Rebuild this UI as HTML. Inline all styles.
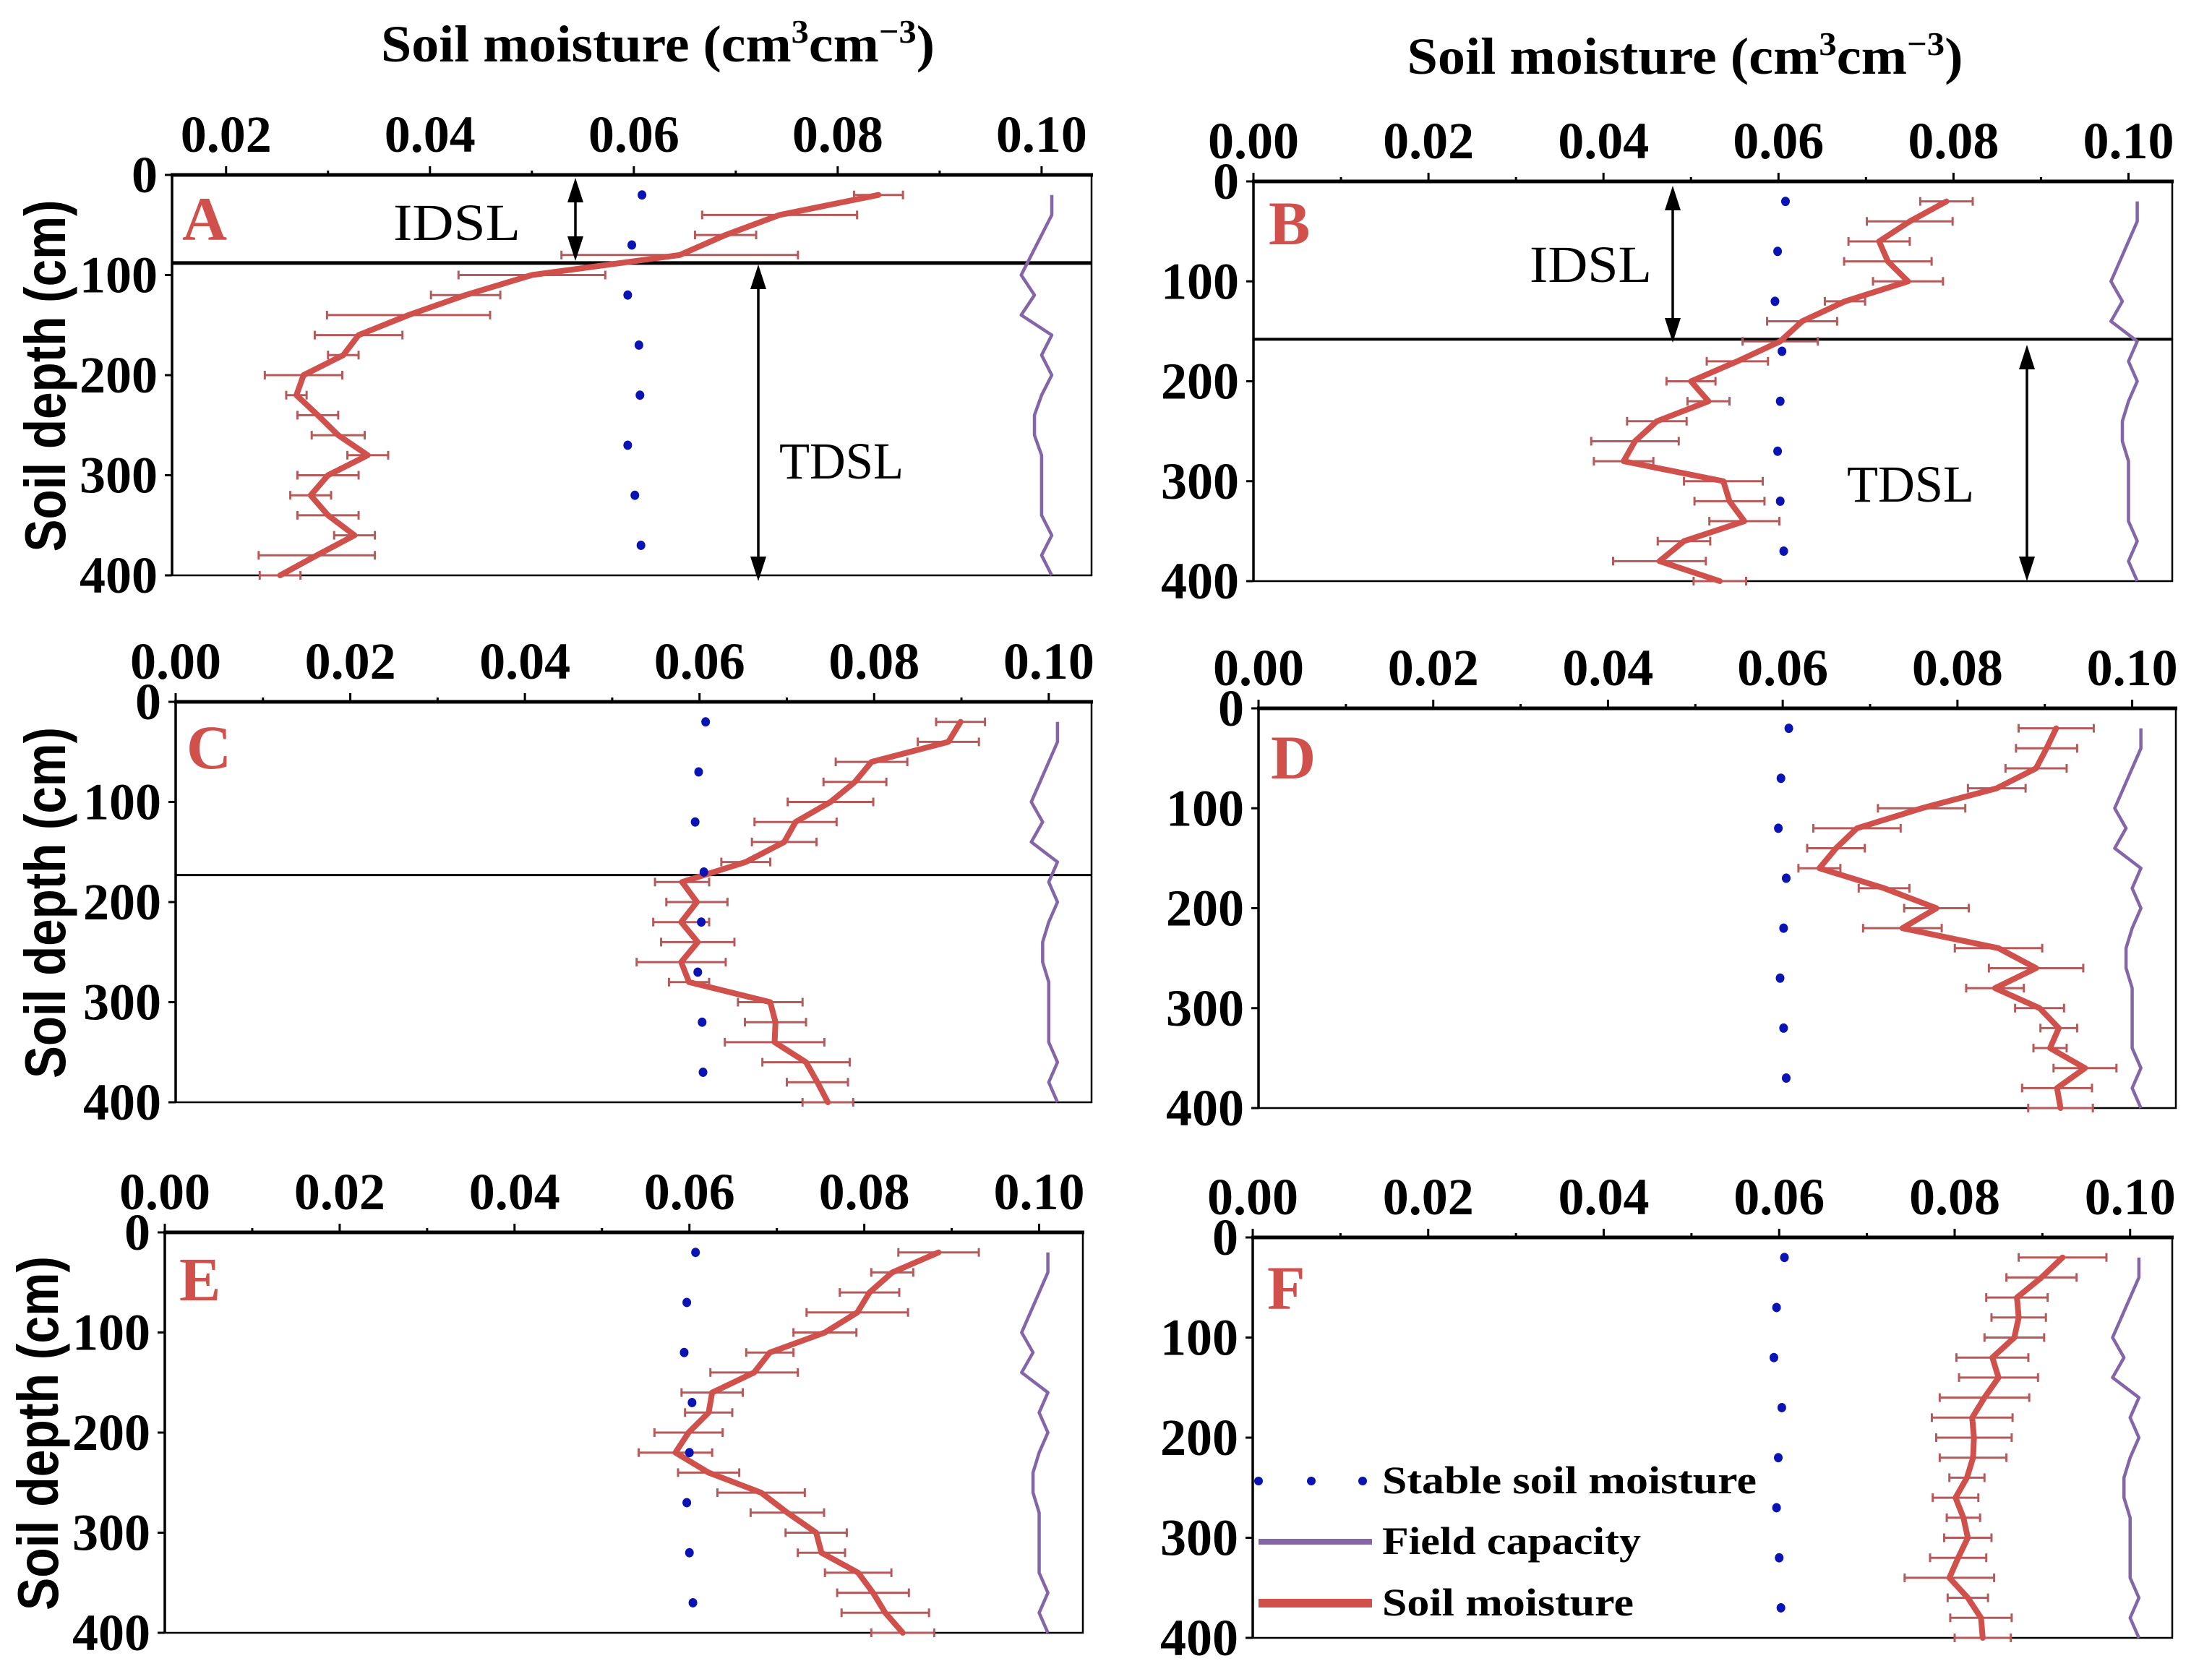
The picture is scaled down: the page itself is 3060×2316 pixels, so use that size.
<!DOCTYPE html>
<html>
<head>
<meta charset="utf-8">
<style>
  html,body{margin:0;padding:0;background:#fff;}
  svg{display:block;}
  .tick{font-family:"Liberation Serif",serif;font-weight:bold;font-size:72px;fill:#000;}
</style>
</head>
<body>
<svg id="fig" width="3060" height="2316" viewBox="0 0 3060 2316" xmlns="http://www.w3.org/2000/svg">
  <rect x="0" y="0" width="3060" height="2316" fill="#fff"/>
  <text x="910" y="85" text-anchor="middle" font-family="Liberation Serif, serif" font-weight="bold" font-size="72" textLength="766" lengthAdjust="spacingAndGlyphs">Soil moisture (cm<tspan dy="-26" font-size="46">3</tspan><tspan dy="26">cm</tspan><tspan dy="-26" font-size="46">−3</tspan><tspan dy="26">)</tspan></text>
  <text x="2331" y="102" text-anchor="middle" font-family="Liberation Serif, serif" font-weight="bold" font-size="72" textLength="769" lengthAdjust="spacingAndGlyphs">Soil moisture (cm<tspan dy="-26" font-size="46">3</tspan><tspan dy="26">cm</tspan><tspan dy="-26" font-size="46">−3</tspan><tspan dy="26">)</tspan></text>
  <text transform="translate(90,520) rotate(-90)" text-anchor="middle" font-family="Liberation Sans, sans-serif" font-weight="bold" font-size="80" textLength="487" lengthAdjust="spacingAndGlyphs">Soil depth (cm)</text>
  <text transform="translate(90,1249) rotate(-90)" text-anchor="middle" font-family="Liberation Sans, sans-serif" font-weight="bold" font-size="80" textLength="486" lengthAdjust="spacingAndGlyphs">Soil depth (cm)</text>
  <text transform="translate(80,1983) rotate(-90)" text-anchor="middle" font-family="Liberation Sans, sans-serif" font-weight="bold" font-size="80" textLength="490" lengthAdjust="spacingAndGlyphs">Soil depth (cm)</text>
  <g id="panels"></g>
  <g id="legend">
    <circle cx="1741" cy="2049" r="6" fill="#0a14b4"/>
    <circle cx="1814" cy="2049" r="6" fill="#0a14b4"/>
    <circle cx="1885" cy="2049" r="6" fill="#0a14b4"/>
    <text x="1912" y="2066" font-family="Liberation Serif, serif" font-weight="bold" font-size="54" textLength="518" lengthAdjust="spacingAndGlyphs">Stable soil moisture</text>
    <line x1="1741" y1="2133" x2="1898" y2="2133" stroke="#8466a8" stroke-width="8"/>
    <text x="1912" y="2150" font-family="Liberation Serif, serif" font-weight="bold" font-size="54" textLength="358" lengthAdjust="spacingAndGlyphs">Field capacity</text>
    <line x1="1741" y1="2218" x2="1898" y2="2218" stroke="#d0504c" stroke-width="12"/>
    <text x="1912" y="2235" font-family="Liberation Serif, serif" font-weight="bold" font-size="54" textLength="348" lengthAdjust="spacingAndGlyphs">Soil moisture</text>
  </g>
</svg>
<script>
const depths = [20,40,60,80,100,120,140,160,180,200,220,240,260,280,300,320,340,360,380,400];
const stableDepths = [20,70,120,170,220,270,320,370];
const yTickValues = [0,100,200,300,400];
const xTickLabelsA = ['0.02','0.04','0.06','0.08','0.10'];
const xTickLabels = ['0.00','0.02','0.04','0.06','0.08','0.10'];
const fieldCapacity = [0.101,0.101,0.100,0.099,0.098,0.0993,0.098,0.101,0.100,0.101,0.100,0.0993,0.0993,0.100,0.100,0.100,0.100,0.101,0.100,0.101];

const smA = [0.084,0.0743,0.069,0.0645,0.050,0.0435,0.0379,0.033,0.0315,0.0276,0.0269,0.029,0.031,0.0339,0.030,0.0283,0.030,0.0326,0.0289,0.0253];
const errA = [0.0024,0.0076,0.003,0.0116,0.0072,0.0034,0.008,0.0043,0.0015,0.0038,0.001,0.002,0.0026,0.002,0.003,0.002,0.003,0.002,0.0057,0.002];
const stA = [0.0608,0.0598,0.0594,0.0605,0.0606,0.0594,0.0601,0.0607];

const smB = [0.0792,0.075,0.0715,0.0725,0.0748,0.0676,0.0627,0.0602,0.0553,0.050,0.052,0.0461,0.0436,0.0423,0.0537,0.0544,0.0561,0.0492,0.0464,0.0533];
const errB = [0.003,0.0049,0.0035,0.005,0.004,0.0023,0.004,0.0043,0.0035,0.0028,0.0024,0.0034,0.005,0.0034,0.0045,0.004,0.004,0.003,0.0053,0.003];
const stB = [0.0608,0.0599,0.0596,0.0604,0.0602,0.0599,0.0602,0.0606];

const smC = [0.0899,0.0885,0.0797,0.0778,0.075,0.071,0.0697,0.0653,0.058,0.0597,0.0579,0.0598,0.0579,0.0588,0.0681,0.0687,0.0686,0.0722,0.0735,0.0747];
const errC = [0.0028,0.0035,0.0041,0.0036,0.0049,0.0047,0.0037,0.0028,0.0031,0.0035,0.0032,0.0042,0.0051,0.0023,0.0037,0.0035,0.0057,0.005,0.0035,0.0029];
const stC = [0.0607,0.0599,0.0595,0.0605,0.0602,0.0598,0.0603,0.0604];

const smD = [0.0913,0.0902,0.089,0.0845,0.0759,0.0685,0.0661,0.0642,0.0716,0.0776,0.0737,0.0847,0.089,0.0843,0.0894,0.0916,0.0906,0.0946,0.0914,0.0918];
const errD = [0.0043,0.0035,0.0035,0.0033,0.005,0.005,0.0033,0.0024,0.0029,0.0037,0.0045,0.005,0.0054,0.0033,0.0028,0.0021,0.0019,0.0036,0.004,0.0037];
const stD = [0.0607,0.0598,0.0595,0.0604,0.0601,0.0597,0.0601,0.0604];

const smE = [0.0885,0.0832,0.0806,0.0792,0.0755,0.0692,0.0674,0.0626,0.0622,0.0599,0.0584,0.0622,0.0682,0.0712,0.0745,0.0751,0.0793,0.081,0.0824,0.0844];
const errE = [0.0046,0.0024,0.0034,0.0058,0.0036,0.0027,0.005,0.0035,0.0027,0.0039,0.0042,0.0035,0.005,0.0042,0.0035,0.0027,0.0038,0.0041,0.005,0.0036];
const stE = [0.0607,0.0597,0.0594,0.0603,0.060,0.0597,0.060,0.0604];

const smF = [0.0923,0.0899,0.0871,0.0873,0.0868,0.0843,0.085,0.0834,0.082,0.0822,0.0821,0.0814,0.0801,0.081,0.0815,0.0804,0.0794,0.0815,0.083,0.0832];
const errF = [0.005,0.004,0.0035,0.0031,0.0034,0.0041,0.0045,0.0051,0.0046,0.0043,0.0038,0.002,0.0026,0.0019,0.0027,0.0032,0.0051,0.0023,0.0035,0.0032];
const stF = [0.0606,0.0597,0.0594,0.0603,0.0599,0.0597,0.060,0.0602];

const boundaryDepthA = 88;
const boundaryDepthB = 158;
const boundaryDepthC = 173;

const NS = 'http://www.w3.org/2000/svg';
function mk(tag, attrs, parent){
  const e = document.createElementNS(NS, tag);
  for (const k in attrs) e.setAttribute(k, attrs[k]);
  if (parent) parent.appendChild(e);
  return e;
}

const panels = [
  {id:'a', l:238, t:242, r:1510, b:796, xmin:0.0147, xmax:0.1049, labels:xTickLabelsA, sm:smA, err:errA, st:stA, letterX:252, letterY:332, line:boundaryDepthA, lineW:5},
  {id:'b', l:1734, t:251, r:3005, b:804, xmin:0, xmax:0.105, labels:xTickLabels, sm:smB, err:errB, st:stB, letterX:1755, letterY:338, line:boundaryDepthB, lineW:4},
  {id:'c', l:243, t:971, r:1510, b:1525, xmin:0, xmax:0.1049, labels:xTickLabels, sm:smC, err:errC, st:stC, letterX:258, letterY:1063, line:boundaryDepthC, lineW:3},
  {id:'d', l:1741, t:980, r:3010, b:1533, xmin:0, xmax:0.105, labels:xTickLabels, sm:smD, err:errD, st:stD, letterX:1758, letterY:1077, line:null},
  {id:'e', l:228, t:1705, r:1498, b:2259, xmin:0, xmax:0.105, labels:xTickLabels, sm:smE, err:errE, st:stE, letterX:248, letterY:1799, line:null},
  {id:'f', l:1733, t:1712, r:3005, b:2266, xmin:0, xmax:0.1048, labels:xTickLabels, sm:smF, err:errF, st:stF, letterX:1753, letterY:1811, line:null}
];

const root = document.getElementById('panels');

panels.forEach(p => {
  const g = mk('g', {}, root);
  
  
  const X = v => p.l + (v - p.xmin) / (p.xmax - p.xmin) * (p.r - p.l);
  const Y = d => p.t + d / 400 * (p.b - p.t);

  // frame
  const frame = mk('rect', {x:p.l, y:p.t, width:p.r-p.l, height:p.b-p.t, fill:'none', stroke:'#000', 'stroke-width':2.5}, g);
  
  
  const topAxis = mk('line', {x1:p.l-2, y1:p.t, x2:p.r+2, y2:p.t, stroke:'#000', 'stroke-width':5}, g);
  
  
  const leftAxis = mk('line', {x1:p.l, y1:p.t, x2:p.l, y2:p.b, stroke:'#000', 'stroke-width':3.5}, g);
  
  

  // x ticks
  const startMinor = Math.ceil(p.xmin / 0.01 - 1e-6);
  for (let k = startMinor; k * 0.01 <= p.xmax + 1e-9; k++) {
    const v = k * 0.01;
    const major = k % 2 === 0;
    mk('line', {x1:X(v), y1:p.t, x2:X(v), y2:p.t - (major ? 12 : 6), stroke:'#000', 'stroke-width':3}, g);
  }
  p.labels.forEach(lab => {
    const t = mk('text', {x:X(parseFloat(lab)), y:p.t - 32, 'text-anchor':'middle', class:'tick'}, g);
    t.textContent = lab;
    
    
  });
  // y ticks
  yTickValues.forEach(d => {
    mk('line', {x1:p.l, y1:Y(d), x2:p.l - 10, y2:Y(d), stroke:'#000', 'stroke-width':3}, g);
    const t = mk('text', {x:p.l - 20, y:Y(d) + 24, 'text-anchor':'end', class:'tick'}, g);
    t.textContent = String(d);
    
    
  });

  // boundary line
  if (p.line !== null) {
    const bl = mk('line', {x1:p.l, y1:Y(p.line), x2:p.r, y2:Y(p.line), stroke:'#000', 'stroke-width':p.lineW}, g);
    
    
  }

  // error bars
  depths.forEach((d, i) => {
    const eg = mk('g', {stroke:'#b55a5a', 'stroke-width':3}, g);
    
    
    const y = Y(d), x1 = X(p.sm[i] - p.err[i]), x2 = X(p.sm[i] + p.err[i]);
    mk('line', {x1:x1, y1:y, x2:x2, y2:y}, eg);
    mk('line', {x1:x1, y1:y-6, x2:x1, y2:y+6}, eg);
    mk('line', {x1:x2, y1:y-6, x2:x2, y2:y+6}, eg);
  });

  // soil moisture line
  const smPts = depths.map((d, i) => X(p.sm[i]) + ',' + Y(d)).join(' ');
  const sml = mk('polyline', {points:smPts, fill:'none', stroke:'#d0504c', 'stroke-width':8, 'stroke-linejoin':'round', 'stroke-linecap':'round'}, g);
  
  

  // field capacity
  const fcPts = depths.map((d, i) => X(fieldCapacity[i]) + ',' + Y(d)).join(' ');
  const fcl = mk('polyline', {points:fcPts, fill:'none', stroke:'#8466a8', 'stroke-width':4.5, 'stroke-linejoin':'round'}, g);
  
  

  // stable soil moisture dots
  stableDepths.forEach((d, i) => {
    const c = mk('ellipse', {cx:X(p.st[i]), cy:Y(d), rx:6, ry:6.5, fill:'#0a14b4'}, g);
    
    
  });

  // panel letter
  const L = mk('text', {x:p.letterX, y:p.letterY, 'font-family':'Liberation Serif, serif', 'font-weight':'bold', 'font-size':86, fill:'#d0504c'}, g);
  L.textContent = p.id.toUpperCase();
  
  
});

// arrows
function arrow(x, y1, y2, name){
  const g = mk('g', {fill:'#000', stroke:'#000'}, root);
  
  
  mk('line', {x1:x, y1:y1+20, x2:x, y2:y2-20, 'stroke-width':3.5}, g);
  mk('polygon', {points:`${x},${y1} ${x-11},${y1+34} ${x+11},${y1+34}`, stroke:'none'}, g);
  mk('polygon', {points:`${x},${y2} ${x-11},${y2-34} ${x+11},${y2-34}`, stroke:'none'}, g);
}
arrow(796, 246, 361, 'idsl-arrow-a');
arrow(1049, 366, 804, 'tdsl-arrow-a');
arrow(2314, 257, 474, 'idsl-arrow-b');
arrow(2804, 477, 804, 'tdsl-arrow-b');

function label(x, y, txt, w, name){
  const t = mk('text', {x:x, y:y, 'font-family':'Liberation Serif, serif', 'font-size':72, fill:'#000', textLength:w, lengthAdjust:'spacingAndGlyphs'}, root);
  t.textContent = txt;
  
  
}
label(544, 332, 'IDSL', 176, 'idsl-label-a');
label(1078, 662, 'TDSL', 172, 'tdsl-label-a');
label(2116, 390, 'IDSL', 169, 'idsl-label-b');
label(2555, 694, 'TDSL', 176, 'tdsl-label-b');
</script>
</body>
</html>
